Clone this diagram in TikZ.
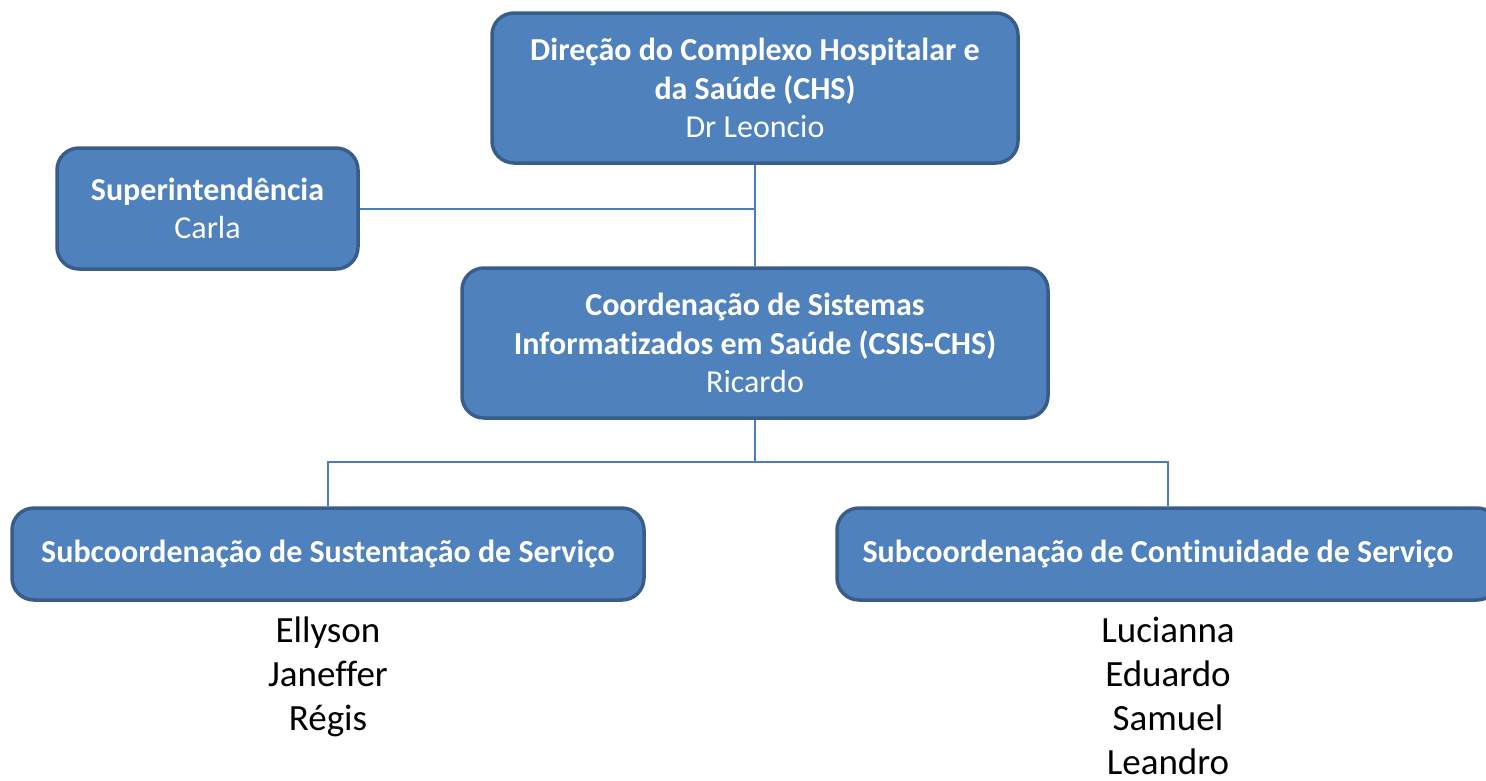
\documentclass[tikz,border=0pt]{standalone}
\usepackage{fontspec}
\setmainfont{Carlito}[Ligatures=NoCommon]
\definecolor{boxfill}{HTML}{4F81BD}
\definecolor{boxline}{HTML}{385D8A}
\definecolor{conn}{HTML}{4A7EBB}
\begin{document}
\begin{tikzpicture}[x=1pt,y=-1pt,
  orgbox/.style={draw=boxline, fill=boxfill, line width=3.5pt, rounded corners=22pt,
    text=white, align=center, inner sep=0pt, font=\fontsize{32}{38.5}\selectfont},
  conline/.style={draw=conn, line width=2pt},
  names/.style={align=center, inner sep=0pt, font=\fontsize{37}{44}\selectfont}]
\useasboundingbox (0,0) rectangle (1486,780);
\clip (0,0) rectangle (1486,780);
\node[orgbox, minimum width=526pt, minimum height=150pt] (top) at (755,88)
  {\textbf{Direção do Complexo Hospitalar e}\\\textbf{da Saúde (CHS)}\\Dr Leoncio};
\node[orgbox, minimum width=301pt, minimum height=121pt] (sup) at (207.5,208.5)
  {\textbf{Superintendência}\\Carla};
\node[orgbox, minimum width=586pt, minimum height=150pt] (coord) at (755,343)
  {\textbf{Coordenação de Sistemas}\\\textbf{Informatizados em Saúde (CSIS-CHS)}\\Ricardo};
\node[orgbox, minimum width=632pt, minimum height=92pt] (left) at (328,554)
  {\textbf{Subcoordenação de Sustentação de Serviço}};
\node[orgbox, minimum width=662pt, minimum height=92pt] (right) at (1168,554)
  {\textbf{Subcoordenação de Continuidade de Serviço}\hspace*{20pt}};
\node[names, anchor=north] (lnames) at (328,617) {Ellyson\\Janeffer\\Régis};
\node[names, anchor=north] (rnames) at (1168,617) {Lucianna\\Eduardo\\Samuel\\Leandro};
\coordinate (j) at (755,462);
\draw[conline] (top.south) -- (coord.north);
\draw[conline] (sup.east) -- (top.south |- sup.east);
\draw[conline] (coord.south) -- (j);
\draw[conline] (left.north) |- (j) -| (right.north);
\end{tikzpicture}
\end{document}
